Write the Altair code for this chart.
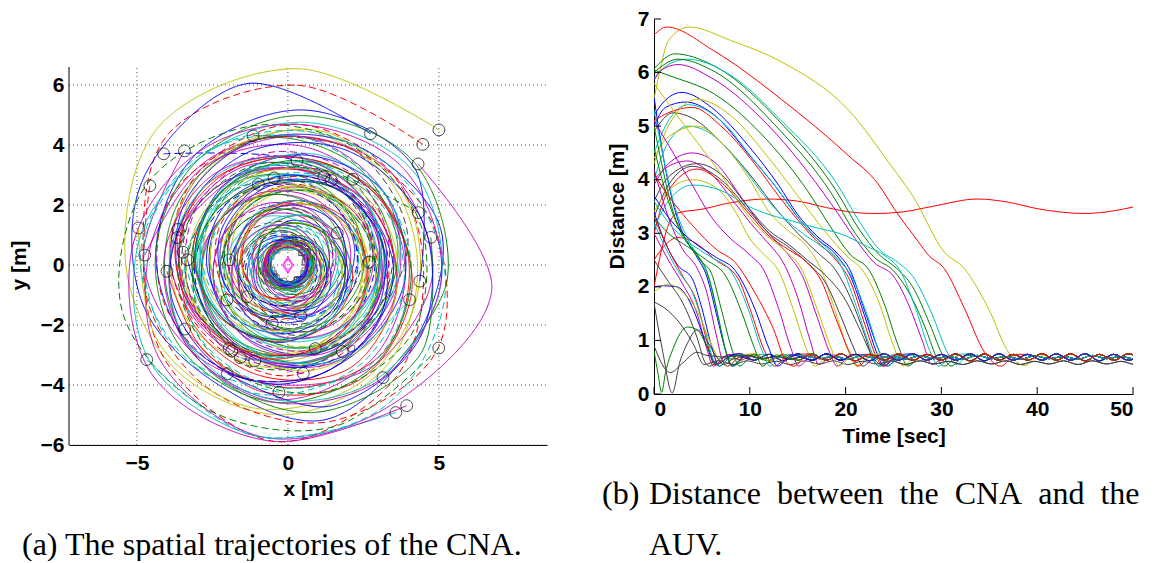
import math
import altair as alt
import pandas as pd

MATLAB = {"b": "#0000FF", "g": "#008000", "r": "#FF0000", "c": "#00BFBF",
          "m": "#BF00BF", "y": "#BFBF00", "k": "#404040"}

# ---------------- Panel (a): spatial trajectories (polar readings) ----------------
# start angle (deg), turning sense, radii read every 45 degrees along the path
TRAJ_START_DEG = [42, 42, 58, 38, 105, 138, 132, 150, 85, 99, 110, 68, 63, 53, 22, 166, 162, 166, 11, 33,
                  176, 173, 177, 183, 175, 2, 353, 344, 210, 218, 284, 255, 212, 235, 237, 243, 251, 288, 302, 331,
                  214, 241, 278, 266, 310, 306, 310]
TRAJ_TURN = [1, 1, 1, -1, -1, -1, 1, 1, -1, 1, 1, 1, -1, -1, 1, 1, -1, 1, -1, 1,
             -1, 1, 1, 1, -1, 1, 1, -1, 1, -1, 1, -1, 1, -1, 1, 1, -1, 1, 1, -1,
             1, 1, -1, -1, 1, -1, -1]
TRAJ_COLOR = list("yrbmkbmrgyycbkgymrgkmcbrbybcbmckrgycmycgcbmcgcm")
TRAJ_STYLE = ["s", "d", "s", "s", "d", "d", "s", "d", "s", "s", "d", "s", "s", "d", "d", "s", "s", "s", "s", "s",
              "s", "d", "s", "s", "s", "d", "s", "s", "d", "s", "s", "d", "s", "s", "s", "s", "s", "s", "s", "d",
              "d", "s", "d", "d", "s", "s", "s"]
TRAJ_R = [
    [6.73, 6.55, 6.3, 5.4, 5.1, 5.0, 4.7, 4.3, 4.4, 4.5, 4.1, 3.6, 3.3, 3.2, 3.0, 2.7, 2.6, 2.5, 2.2, 1.9, 1.7, 1.6, 1.4, 1.2, 1.05, 0.95, 0.85, 0.75, 0.66, 0.62, 0.62, 0.62, 0.62],
    [6.01, 6.0, 5.9, 4.8, 5.2, 5.9, 5.2, 4.5, 4.6, 4.7, 4.3, 3.9, 3.6, 3.7, 3.4, 3.0, 2.8, 2.7, 2.4, 2.0, 1.8, 1.6, 1.3, 1.1, 0.9, 0.8, 0.74, 0.72, 0.72, 0.72],
    [5.16, 6.2, 5.6, 5.0, 4.6, 5.3, 4.9, 5.2, 4.6, 4.3, 4.0, 3.6, 3.2, 3.4, 3.2, 3.3, 3.0, 2.7, 2.4, 2.2, 2.0, 1.9, 1.6, 1.3, 1.1, 0.9, 0.8, 0.72, 0.68, 0.68, 0.68, 0.68],
    [5.47, 6.8, 5.8, 5.8, 5.3, 4.6, 4.4, 4.3, 4.0, 3.7, 3.4, 3.3, 3.1, 2.9, 2.6, 2.3, 2.1, 1.9, 1.6, 1.4, 1.2, 1.0, 0.85, 0.75, 0.7, 0.66, 0.66, 0.66],
    [4.46, 4.4, 4.1, 3.4, 3.0, 3.2, 3.5, 3.6, 3.4, 3.1, 2.8, 2.5, 2.4, 2.2, 2.0, 1.8, 1.5, 1.3, 1.1, 0.95, 0.8, 0.72, 0.62, 0.62, 0.62],
    [5.54, 3.6, 3.2, 2.9, 2.8, 3.0, 3.2, 3.1, 2.9, 2.7, 2.5, 2.3, 2.0, 1.8, 1.6, 1.4, 1.2, 1.0, 0.85, 0.7, 0.58, 0.58, 0.58],
    [5.12, 4.8, 4.3, 4.0, 4.4, 4.8, 4.6, 4.3, 4.2, 3.9, 3.5, 3.3, 3.3, 3.1, 2.8, 2.6, 2.3, 2.0, 1.8, 1.5, 1.3, 1.1, 0.9, 0.78, 0.74, 0.74, 0.74, 0.74],
    [5.28, 4.8, 4.9, 5.4, 5.7, 5.0, 4.4, 4.3, 4.5, 4.3, 4.1, 3.8, 3.5, 3.3, 3.1, 2.9, 2.6, 2.3, 2.0, 1.7, 1.4, 1.2, 1.0, 0.88, 0.8, 0.8, 0.8, 0.8],
    [3.48, 3.6, 3.5, 3.2, 3.0, 3.1, 3.2, 3.3, 3.0, 2.7, 2.5, 2.3, 2.1, 1.9, 1.6, 1.4, 1.2, 1.0, 0.85, 0.75, 0.68, 0.68, 0.68, 0.68],
    [2.94, 3.0, 2.8, 2.6, 2.9, 3.1, 2.9, 2.7, 2.5, 2.3, 2.1, 1.9, 1.7, 1.5, 1.3, 1.1, 0.95, 0.8, 0.68, 0.6, 0.6, 0.6, 0.6],
    [2.86, 2.7, 2.5, 2.6, 2.8, 2.6, 2.4, 2.2, 2.0, 1.8, 1.6, 1.4, 1.2, 1.0, 0.85, 0.75, 0.64, 0.64, 0.64, 0.64],
    [3.17, 3.1, 3.0, 2.8, 2.7, 2.9, 3.0, 2.8, 2.6, 2.4, 2.2, 2.0, 1.8, 1.6, 1.4, 1.2, 1.0, 0.85, 0.75, 0.72, 0.72, 0.72, 0.72],
    [3.17, 3.2, 3.3, 3.1, 2.8, 2.6, 2.7, 2.8, 2.6, 2.3, 2.0, 1.8, 1.6, 1.4, 1.2, 1.0, 0.85, 0.7, 0.56, 0.56, 0.56, 0.56],
    [3.58, 3.5, 3.3, 3.0, 3.2, 3.4, 3.2, 2.9, 2.7, 2.5, 2.2, 2.0, 1.7, 1.5, 1.3, 1.1, 0.9, 0.78, 0.76, 0.76, 0.76, 0.76],
    [4.66, 3.4, 3.2, 3.0, 3.3, 3.6, 3.4, 3.1, 2.8, 2.6, 2.4, 2.2, 2.0, 1.8, 1.5, 1.3, 1.1, 0.9, 0.8, 0.78, 0.78, 0.78, 0.78],
    [5.10, 5.0, 4.9, 4.6, 4.4, 4.5, 4.6, 4.3, 4.0, 3.8, 3.5, 3.3, 3.1, 2.9, 2.7, 2.5, 2.2, 1.9, 1.6, 1.4, 1.2, 1.0, 0.85, 0.7, 0.6, 0.6, 0.6, 0.6],
    [3.83, 3.4, 3.2, 3.4, 3.7, 3.6, 3.3, 3.0, 2.8, 2.6, 2.4, 2.2, 2.0, 1.8, 1.5, 1.3, 1.1, 0.9, 0.78, 0.66, 0.66, 0.66, 0.66],
    [3.78, 3.7, 3.8, 4.0, 3.7, 3.4, 3.2, 3.3, 3.2, 2.9, 2.6, 2.4, 2.2, 1.9, 1.7, 1.4, 1.2, 1.0, 0.85, 0.75, 0.72, 0.72, 0.72],
    [4.82, 5.3, 5.0, 4.4, 4.1, 4.2, 4.3, 4.0, 3.7, 3.4, 3.3, 3.1, 2.9, 2.7, 2.4, 2.1, 1.9, 1.6, 1.4, 1.2, 1.0, 0.88, 0.8, 0.8, 0.8, 0.8, 0.8],
    [1.95, 1.9, 1.8, 1.7, 1.6, 1.4, 1.25, 1.1, 0.95, 0.82, 0.68, 0.58, 0.58, 0.58, 0.58],
    [4.75, 4.3, 4.0, 3.8, 3.9, 4.2, 4.5, 4.3, 3.9, 3.5, 3.2, 3.0, 2.8, 2.5, 2.2, 1.9, 1.6, 1.3, 1.1, 0.9, 0.78, 0.68, 0.68, 0.68, 0.68],
    [3.50, 3.3, 3.1, 3.0, 3.2, 3.3, 3.1, 2.8, 2.6, 2.4, 2.2, 2.0, 1.8, 1.5, 1.3, 1.1, 0.9, 0.78, 0.72, 0.72, 0.72, 0.72],
    [3.33, 3.2, 3.4, 3.6, 3.5, 3.2, 3.0, 2.9, 2.7, 2.5, 2.3, 2.1, 1.9, 1.6, 1.4, 1.2, 1.0, 0.85, 0.7, 0.62, 0.62, 0.62],
    [4.01, 4.0, 4.1, 4.3, 4.0, 3.7, 3.6, 3.8, 3.6, 3.3, 3.0, 2.8, 2.6, 2.3, 2.0, 1.7, 1.5, 1.3, 1.1, 0.9, 0.78, 0.74, 0.74, 0.74, 0.74],
    [1.95, 1.9, 2.0, 2.1, 1.9, 1.7, 1.5, 1.3, 1.1, 0.95, 0.82, 0.72, 0.66, 0.66, 0.66, 0.66],
    [2.69, 2.7, 2.6, 2.4, 2.3, 2.4, 2.2, 2.0, 1.8, 1.6, 1.4, 1.2, 1.0, 0.88, 0.8, 0.8, 0.8, 0.8, 0.8],
    [4.40, 5.3, 5.2, 4.8, 4.4, 4.2, 4.0, 3.7, 3.9, 4.0, 3.7, 3.4, 3.1, 2.8, 2.6, 2.3, 2.0, 1.7, 1.5, 1.2, 1.0, 0.85, 0.7, 0.6, 0.6, 0.6, 0.6],
    [4.19, 3.6, 3.1, 2.9, 3.0, 3.3, 3.5, 3.3, 3.0, 2.7, 2.5, 2.3, 2.0, 1.8, 1.5, 1.3, 1.1, 0.9, 0.8, 0.76, 0.76, 0.76, 0.76],
    [2.33, 2.2, 2.1, 2.3, 2.4, 2.2, 2.0, 1.8, 1.6, 1.4, 1.2, 1.0, 0.85, 0.7, 0.56, 0.56, 0.56, 0.56],
    [1.72, 1.8, 1.9, 1.7, 1.5, 1.35, 1.2, 1.05, 0.92, 0.8, 0.7, 0.62, 0.62, 0.62, 0.62],
    [1.75, 1.6, 1.7, 1.8, 1.6, 1.4, 1.25, 1.1, 0.95, 0.85, 0.8, 0.78, 0.78, 0.78, 0.78],
    [2.01, 2.1, 2.2, 2.0, 1.8, 1.6, 1.45, 1.3, 1.15, 1.0, 0.85, 0.7, 0.6, 0.6, 0.6, 0.6],
    [4.03, 4.3, 4.5, 4.2, 3.8, 3.6, 3.7, 3.8, 3.5, 3.2, 2.9, 2.7, 2.5, 2.2, 1.9, 1.6, 1.4, 1.2, 1.0, 0.88, 0.8, 0.8, 0.8, 0.8, 0.8],
    [3.40, 3.2, 3.0, 2.8, 3.0, 3.2, 3.1, 2.8, 2.5, 2.3, 2.1, 1.9, 1.7, 1.4, 1.2, 1.0, 0.85, 0.7, 0.58, 0.58, 0.58, 0.58],
    [3.42, 3.6, 3.8, 3.6, 3.4, 3.2, 3.3, 3.4, 3.2, 2.9, 2.6, 2.4, 2.2, 2.0, 1.7, 1.5, 1.3, 1.1, 0.9, 0.75, 0.64, 0.64, 0.64, 0.64],
    [3.47, 3.3, 3.1, 3.0, 3.2, 3.4, 3.2, 2.9, 2.6, 2.4, 2.2, 2.0, 1.8, 1.5, 1.3, 1.1, 0.9, 0.8, 0.76, 0.76, 0.76, 0.76],
    [3.38, 3.5, 3.7, 3.6, 3.3, 3.1, 3.2, 3.2, 2.9, 2.6, 2.4, 2.2, 2.0, 1.7, 1.5, 1.3, 1.1, 0.9, 0.72, 0.6, 0.6, 0.6, 0.6],
    [2.93, 2.7, 2.5, 2.6, 2.8, 2.7, 2.5, 2.3, 2.1, 1.9, 1.7, 1.5, 1.3, 1.1, 0.92, 0.82, 0.8, 0.8, 0.8, 0.8],
    [3.40, 3.6, 4.0, 3.8, 3.4, 3.1, 3.0, 3.1, 3.0, 2.7, 2.4, 2.2, 2.0, 1.8, 1.5, 1.3, 1.1, 0.9, 0.72, 0.56, 0.56, 0.56, 0.56],
    [5.71, 5.6, 5.5, 5.7, 5.4, 4.8, 4.5, 4.6, 4.7, 4.4, 4.0, 3.7, 3.6, 3.5, 3.2, 2.9, 2.6, 2.3, 2.0, 1.7, 1.4, 1.2, 1.0, 0.85, 0.72, 0.64, 0.64, 0.64, 0.64],
    [5.64, 5.8, 5.7, 5.3, 4.8, 4.5, 4.6, 4.8, 4.7, 4.4, 4.1, 3.9, 3.7, 3.5, 3.2, 2.9, 2.6, 2.3, 2.0, 1.7, 1.4, 1.2, 1.0, 0.85, 0.8, 0.78, 0.78, 0.78, 0.78],
    [4.14, 4.9, 5.0, 4.7, 4.3, 4.0, 3.8, 4.0, 4.1, 3.8, 3.5, 3.2, 3.0, 2.8, 2.5, 2.2, 1.9, 1.6, 1.4, 1.2, 1.0, 0.85, 0.7, 0.6, 0.6, 0.6, 0.6],
    [3.65, 3.5, 3.4, 3.6, 3.8, 3.7, 3.4, 3.1, 2.9, 2.7, 2.5, 2.3, 2.0, 1.8, 1.5, 1.3, 1.1, 0.9, 0.8, 0.76, 0.76, 0.76, 0.76],
    [4.25, 4.6, 4.9, 4.7, 4.3, 4.0, 4.1, 4.3, 4.1, 3.8, 3.4, 3.1, 2.9, 2.6, 2.3, 2.0, 1.7, 1.5, 1.2, 1.0, 0.85, 0.7, 0.58, 0.58, 0.58, 0.58],
    [4.90, 5.3, 5.4, 5.0, 4.6, 4.4, 4.5, 4.6, 4.4, 4.1, 3.8, 3.5, 3.3, 3.1, 2.8, 2.5, 2.2, 1.9, 1.6, 1.4, 1.2, 1.0, 0.88, 0.8, 0.8, 0.8, 0.8, 0.8],
    [6.08, 5.8, 5.6, 5.0, 4.6, 4.8, 5.2, 5.1, 4.8, 4.5, 4.2, 3.9, 3.8, 3.6, 3.3, 3.0, 2.7, 2.4, 2.1, 1.8, 1.5, 1.3, 1.1, 0.9, 0.72, 0.62, 0.62, 0.62, 0.62],
    [6.12, 5.9, 5.8, 5.2, 4.8, 4.7, 5.0, 5.1, 4.9, 4.6, 4.3, 4.1, 3.9, 3.6, 3.3, 3.0, 2.7, 2.4, 2.1, 1.8, 1.5, 1.3, 1.1, 0.9, 0.78, 0.74, 0.74, 0.74, 0.74],
]
EXTRA_SQUARE_X = [2.11]
EXTRA_SQUARE_Y = [-2.78]
AUV_X = [0.0]
AUV_Y = [0.0]
X_TICKS_A = [-5, 0, 5]
Y_TICKS_A = [-6, -4, -2, 0, 2, 4, 6]

# ---------------- Panel (b): distance curves (t [s], d [m]) ----------------
DIST_KNOTS = [
    [(0, 6.7), (1.3, 6.85), (6.3, 6.4), (13.3, 5.5), (20.3, 4.45), (23.4, 3.92), (25.1, 3.45), (27.6, 2.84), (28.6, 2.6), (30.3, 2.34), (32.4, 1.6), (34.5, 0.78), (36.2, 0.52), (37.8, 0.74)],
    [(0, 5.5), (0.7, 6.1), (1.5, 6.6), (3.7, 6.85), (8, 6.6), (13.3, 6.2), (20.3, 5.3), (25, 4.2), (27, 3.7), (30.3, 2.65), (32.4, 2.34), (34.9, 1.6), (37, 0.78), (38.7, 0.53), (40.3, 0.74)],
    [(0, 2.0), (0.8, 2.7), (1.5, 3.15), (2.5, 3.38), (5, 3.45), (8, 3.57), (11.8, 3.64), (15, 3.6), (18, 3.48), (20, 3.41), (23, 3.37), (26, 3.4), (29, 3.5), (33.8, 3.64), (37, 3.58), (40, 3.46), (45, 3.37), (48, 3.42), (50, 3.49)],
    [(0, 6.07), (2.2, 6.35), (6, 6.15), (13.3, 5.05), (19, 3.8), (21.5, 3.05), (23.5, 2.6), (25.3, 2.35), (27, 2.0), (28.8, 1.3), (30.2, 0.7), (31, 0.52), (32.5, 0.72)],
    [(0, 5.9), (1.5, 6.15), (3.5, 6.25), (8, 5.95), (13.3, 5.1), (19, 3.95), (21.5, 3.2), (23.5, 2.7), (25.5, 2.45), (27, 2.2), (29, 1.5), (30.7, 0.75), (31.5, 0.55), (33, 0.74)],
    [(0, 6.0), (2.5, 6.25), (6, 6.05), (13, 4.95), (18.5, 3.75), (21, 3.0), (23, 2.55), (25, 2.3), (26.6, 1.9), (28.4, 1.2), (29.6, 0.65), (30.3, 0.52), (31.8, 0.72)],
    [(0, 5.85), (0.8, 6.05), (2.5, 6.15), (6, 5.9), (12, 5.0), (18.5, 3.55), (21, 2.9), (23, 2.45), (25, 2.2), (26.5, 1.7), (28, 1.0), (29, 0.55), (30.5, 0.72)],
    [(0, 6.05), (1.5, 5.95), (6.3, 5.6), (12, 4.7), (16, 3.8), (18.5, 3.1), (20.5, 2.6), (22.5, 2.3), (24, 1.7), (25.5, 0.9), (26.5, 0.52), (28, 0.72)],
    [(0, 5.2), (1, 5.45), (2.9, 5.63), (6, 5.35), (10, 4.6), (13, 3.9), (15, 3.35), (17, 2.95), (19, 2.65), (20.5, 2.3), (22, 1.55), (23.5, 0.8), (24.3, 0.52), (25.8, 0.73)],
    [(0, 5.0), (1.2, 5.35), (3.3, 5.45), (6, 5.25), (10, 4.45), (13, 3.8), (15, 3.3), (17, 2.9), (19, 2.6), (20.5, 2.2), (22, 1.45), (23.3, 0.75), (24, 0.52), (25.5, 0.73)],
    [(0, 4.5), (1.5, 5.1), (3.6, 5.4), (7, 5.1), (10.5, 4.35), (13, 3.8), (15, 3.3), (17, 2.9), (19, 2.55), (20.6, 2.2), (22.3, 1.45), (23.6, 0.75), (24.4, 0.52), (25.9, 0.73)],
    [(0, 5.1), (1.5, 5.25), (4, 5.35), (7, 5.0), (10.5, 4.3), (13, 3.7), (15, 3.25), (17, 2.85), (19, 2.5), (20.5, 2.1), (22, 1.3), (23.2, 0.7), (23.9, 0.52), (25.4, 0.73)],
    [(0, 4.9), (2, 5.25), (4, 5.15), (7, 4.7), (10, 4.1), (13, 3.4), (15, 3.0), (17, 2.65), (19, 2.3), (20.5, 1.8), (22, 1.1), (23, 0.6), (23.6, 0.52), (25.1, 0.72)],
    [(0, 4.3), (1.5, 5.0), (4.5, 5.5), (8, 5.2), (12, 4.4), (15, 3.7), (18, 3.0), (20, 2.6), (22, 2.25), (23.5, 1.7), (25, 0.9), (26, 0.52), (27.5, 0.73)],
    [(0, 4.0), (1.5, 4.7), (3.6, 5.0), (6, 4.85), (9, 4.3), (11.5, 3.7), (13.5, 3.3), (15.5, 3.0), (17.5, 2.75), (19.5, 2.4), (21, 1.7), (22.5, 0.9), (23.4, 0.52), (24.9, 0.73)],
    [(0, 4.4), (1.5, 4.8), (4.5, 5.0), (7, 4.7), (10, 4.0), (12, 3.4), (14, 3.05), (16, 2.75), (17.5, 2.3), (19, 1.5), (20.4, 0.75), (21.1, 0.52), (22.6, 0.73)],
    [(0, 3.9), (1.5, 4.3), (4, 4.5), (6.5, 4.3), (9, 3.7), (11, 3.2), (12.5, 2.9), (14, 2.6), (15.5, 2.2), (17, 1.45), (18.4, 0.75), (19.1, 0.52), (20.6, 0.73)],
    [(0, 4.0), (1.5, 4.25), (3.5, 4.35), (6, 4.1), (8.5, 3.55), (10.5, 3.1), (12, 2.8), (13.5, 2.45), (15, 1.8), (16.3, 1.0), (17.2, 0.55), (18.7, 0.73)],
    [(0, 3.6), (1.5, 4.05), (4.5, 4.3), (7, 4.1), (10, 3.45), (12, 3.05), (14, 2.8), (16, 2.5), (18, 2.2), (20, 1.75), (21.5, 1.2), (23, 0.65), (23.7, 0.55)],
    [(0, 3.3), (1.5, 3.9), (4, 4.25), (7, 4.0), (10, 3.4), (12, 3.0), (14, 2.75), (16, 2.45), (18, 2.05), (19.5, 1.45), (21, 0.8), (21.8, 0.52), (23.3, 0.72)],
    [(0, 3.0), (1.5, 3.8), (4.5, 4.2), (7, 3.95), (10, 3.35), (12, 2.95), (14, 2.7), (16, 2.45), (17.5, 2.1), (19, 1.4), (20.5, 0.75), (21.3, 0.52), (22.8, 0.73)],
    [(0, 3.4), (1.5, 3.8), (4, 4.0), (6.5, 3.85), (8.5, 3.4), (10, 2.9), (11.5, 2.6), (13, 2.3), (14.5, 1.6), (16, 0.8), (16.8, 0.52), (18.3, 0.73)],
    [(0, 3.1), (1.5, 3.6), (4, 3.9), (7, 3.8), (9.9, 3.5), (12, 3.35), (14, 3.25), (17, 3.1), (19.3, 3.0), (22.3, 2.75), (24.2, 2.57), (25.7, 2.3), (27.3, 1.6), (28.8, 0.8), (29.7, 0.52), (31.2, 0.73)],
    [(0, 2.5), (1, 2.75), (2.5, 2.92), (4.5, 2.8), (6.3, 2.52), (8.8, 2.15), (10, 1.6), (11.6, 0.78), (12.6, 0.52), (14.1, 0.73)],
    [(0, 5.55), (0.8, 4.6), (1.8, 3.7), (3, 3.0), (4.5, 2.55), (5.5, 2.2), (6.5, 1.5), (7.5, 0.8), (8.2, 0.52), (9.7, 0.73)],
    [(0, 5.3), (1, 4.4), (2, 3.6), (3.5, 2.9), (5, 2.45), (6, 2.0), (7, 1.2), (7.8, 0.6), (8.3, 0.52), (9.8, 0.73)],
    [(0, 4.6), (1.5, 3.6), (3, 2.95), (4.5, 2.6), (5.5, 2.3), (6.5, 1.6), (7.5, 0.8), (8.1, 0.52), (9.6, 0.73)],
    [(0, 4.2), (1.5, 3.3), (3, 2.7), (4.5, 2.35), (5.5, 1.9), (6.5, 1.1), (7.2, 0.6), (7.7, 0.52), (9.2, 0.73)],
    [(0, 3.4), (1, 2.9), (2.5, 2.4), (4, 2.15), (5, 1.6), (6, 0.9), (6.8, 0.52), (8.3, 0.73)],
    [(0, 3.3), (1.5, 2.7), (3, 2.2), (4.5, 1.7), (5.5, 1.0), (6.3, 0.55), (7.8, 0.73)],
    [(0, 3.0), (1.5, 2.5), (3, 2.05), (4.5, 1.5), (5.5, 0.85), (6.2, 0.52), (7.7, 0.73)],
    [(0, 3.2), (1, 2.8), (2.5, 2.3), (4, 1.9), (5.3, 1.2), (6.3, 0.6), (6.8, 0.52), (8.3, 0.73)],
    [(0, 5.0), (0.8, 4.3), (2, 3.4), (3.3, 2.9), (4.8, 2.5), (6, 2.25), (7, 1.6), (8.2, 0.8), (8.9, 0.52), (10.4, 0.73)],
    [(0, 2.5), (1.5, 2.1), (3, 1.7), (4.5, 1.05), (5.3, 0.6), (5.8, 0.52), (7.3, 0.7)],
    [(0, 2.0), (1, 2.02), (2.4, 2.0), (3.5, 1.8), (4.5, 1.4), (5.5, 0.9), (6.5, 0.55), (8, 0.72)],
    [(0, 1.9), (1.5, 2.05), (3, 1.9), (4.5, 1.55), (5.8, 1.0), (7, 0.6), (7.6, 0.52), (9.1, 0.72)],
    [(0, 1.72), (1.5, 1.55), (3, 1.25), (4.2, 0.9), (5.2, 0.55)],
    [(0, 0.8), (0.4, 0.4), (0.8, 0.03), (1.2, 0.4), (2, 0.85), (3.5, 1.25), (4.5, 1.2), (5.5, 0.9), (6.5, 0.55), (8, 0.7)],
    [(0, 1.7), (0.9, 0.8), (1.9, 0.02), (2.7, 0.6), (3.5, 0.95), (4.5, 1.2), (5.5, 1.0), (6.5, 0.7), (7.3, 0.55), (8.8, 0.72)],
    [(0, 0.9), (1.7, 0.4), (3, 0.58), (4.5, 0.78), (5.5, 0.72)],
    [(0, 5.1), (2, 4.5), (4, 3.9), (6, 3.3), (8, 2.9), (10, 2.6), (11.5, 2.3), (13, 1.6), (14.3, 0.85), (15.1, 0.52), (16.6, 0.73)],
    [(0, 5.8), (2, 5.3), (4.5, 4.7), (7, 4.1), (9.5, 3.4), (11.5, 3.0), (13.5, 2.7), (15.5, 2.3), (17, 1.6), (18.5, 0.85), (19.3, 0.52), (20.8, 0.73)],
    [(0, 3.3), (1.5, 3.0), (3.5, 2.75), (5.5, 2.5), (7.5, 2.2), (9, 1.6), (10.5, 0.85), (11.3, 0.52), (12.8, 0.73)],
    [(0, 3.6), (1.5, 3.2), (3.5, 2.85), (6, 2.55), (8, 2.3), (9.8, 1.6), (11.3, 0.8), (12.1, 0.52), (13.6, 0.73)],
    [(0, 3.7), (1.5, 3.3), (4, 2.85), (6.5, 2.55), (8.5, 2.3), (10.5, 1.6), (12, 0.85), (12.9, 0.52), (14.4, 0.73)],
    [(0, 4.1), (1.5, 3.7), (4, 3.15), (6.5, 2.7), (8.5, 2.45), (10.5, 1.9), (12.5, 1.2), (13.8, 0.6), (14.6, 0.52), (16.1, 0.73)],
]
DIST_COLOR = list("ryrgcgmgbbcrkycymmkkrycr" + "bcgmbrmcgkbykgkkmy" + "gcbr")
DIST_BAND = [0, 1, None, 2, 0, 1, 0, 2, 1, 0, 2, 1, 2, 0, 1, 0, 1, 2, 3, 0, 1, 2, 0, 1,
             2, 0, 1, 2, 0, 1, 0, 2, 1, 2, 0, 1, 3, 2, 0, 2, 1, 0,
             1, 2, 0, 1]
BAND_T = [0, 1.5, 3, 4.5, 6, 7.5, 9, 10.5, 12, 13.5, 15, 16.5, 18, 19.5, 21, 22.5, 24, 25.5, 27, 28.5,
          30, 31.5, 33, 34.5, 36, 37.5, 39, 40.5, 42, 43.5, 45, 46.5, 48, 49.5, 51]
BAND_T_SHIFT = [0.75, 2.25, 3.75, 5.25, 6.75, 8.25, 9.75, 11.25, 12.75, 14.25, 15.75, 17.25, 18.75, 20.25, 21.75,
                23.25, 24.75, 26.25, 27.75, 29.25, 30.75, 32.25, 33.75, 35.25, 36.75, 38.25, 39.75, 41.25, 42.75,
                44.25, 45.75, 47.25, 48.75, 50.25, 51.75]
BAND_A = [0.75, 0.63, 0.74, 0.62, 0.75, 0.63, 0.75, 0.63, 0.74, 0.62, 0.75, 0.63, 0.75, 0.63, 0.74, 0.62, 0.75, 0.63,
          0.75, 0.63, 0.74, 0.63, 0.75, 0.62, 0.75, 0.63, 0.74, 0.63, 0.75, 0.63, 0.75, 0.62, 0.74, 0.63, 0.75]
BAND_B = [0.63, 0.75, 0.62, 0.74, 0.63, 0.75, 0.63, 0.75, 0.62, 0.74, 0.63, 0.75, 0.63, 0.75, 0.62, 0.74, 0.63, 0.75,
          0.63, 0.74, 0.63, 0.75, 0.62, 0.75, 0.63, 0.74, 0.63, 0.75, 0.63, 0.75, 0.62, 0.74, 0.63, 0.75, 0.63]
BAND_C = [0.70, 0.65, 0.71, 0.66, 0.70, 0.65, 0.72, 0.66, 0.70, 0.65, 0.71, 0.66, 0.70, 0.65, 0.72, 0.66, 0.70, 0.65,
          0.71, 0.66, 0.70, 0.65, 0.72, 0.66, 0.70, 0.65, 0.71, 0.66, 0.70, 0.65, 0.72, 0.66, 0.70, 0.65, 0.71]
BAND_D = [0.62, 0.55, 0.61, 0.56, 0.62, 0.55, 0.62, 0.56, 0.61, 0.55, 0.62, 0.56, 0.62, 0.55, 0.61, 0.56, 0.62, 0.55,
          0.62, 0.56, 0.61, 0.55, 0.62, 0.56, 0.62, 0.55, 0.61, 0.56, 0.62, 0.55, 0.62, 0.56, 0.61, 0.55, 0.62]
BAND_TIMES = [BAND_T, BAND_T, BAND_T_SHIFT, BAND_T_SHIFT]
BAND_VALUES = [BAND_A, BAND_B, BAND_C, BAND_D]
X_TICKS_B = [0, 10, 20, 30, 40, 50]
Y_TICKS_B = [0, 1, 2, 3, 4, 5, 6, 7]

CAPTION_A = "(a) The spatial trajectories of the CNA."
CAPTION_B_TAG = "(b)"
NB = "\u00a0\u00a0"
CAPTION_B_LINE1 = NB.join(["Distance", "between", "the", "CNA", "and", "the"])
CAPTION_B_LINE2 = "AUV."

# ---------------- build tables ----------------
traj_rows, start_rows, end_rows = [], [], []
for i, radii in enumerate(TRAJ_R):
    for k, r in enumerate(radii):
        a = math.radians(TRAJ_START_DEG[i] + TRAJ_TURN[i] * 45 * k)
        traj_rows.append({"traj": i, "k": k, "x": r * math.cos(a), "y": r * math.sin(a),
                          "hex": MATLAB[TRAJ_COLOR[i]], "style": TRAJ_STYLE[i]})
    start_rows.append(traj_rows[-len(radii)])
    end_rows.append(traj_rows[-1])
traj_df = pd.DataFrame(traj_rows)
start_df = pd.DataFrame(start_rows)
end_df = pd.concat([pd.DataFrame(end_rows)[["x", "y"]],
                    pd.DataFrame({"x": EXTRA_SQUARE_X, "y": EXTRA_SQUARE_Y})], ignore_index=True)
auv_df = pd.DataFrame({"x": AUV_X, "y": AUV_Y})

dist_rows = []
for ci, knots in enumerate(DIST_KNOTS):
    hexc = MATLAB[DIST_COLOR[ci]]
    for t, d in knots:
        dist_rows.append({"curve": ci, "t": t, "d": d, "hex": hexc})
    b = DIST_BAND[ci]
    if b is not None:
        last_t = knots[-1][0]
        for t, d in zip(BAND_TIMES[b], BAND_VALUES[b]):
            if t >= last_t + 1.0:
                dist_rows.append({"curve": ci, "t": t, "d": d, "hex": hexc})
dist_df = pd.DataFrame(dist_rows)

# ---------------- panel (a) ----------------
WA, HA = 478, 426
xs_a = alt.Scale(domain=[-7.25, 8.58], nice=False, zero=False)
ys_a = alt.Scale(domain=[-6, 8.2], nice=False, zero=False)
ax_xa = alt.Axis(values=X_TICKS_A, title="x [m]", grid=False, ticks=False, domain=True,
                 labelPadding=7, titleY=44, titleBaseline="middle")
ax_ya = alt.Axis(values=Y_TICKS_A, title="y [m]", grid=False, ticks=False, domain=False,
                 labelPadding=5, titleX=-50, titleY=246, titleBaseline="middle", titleAlign="center")
GRID = dict(strokeDash=[1, 3], color="#555555", strokeWidth=1)

a_hgrid = alt.Chart(pd.DataFrame({"y": Y_TICKS_A})).mark_rule(**GRID).encode(
    y=alt.Y("y:Q", scale=ys_a, axis=ax_ya), x=alt.value(0), x2=alt.value(WA))
a_vgrid = alt.Chart(pd.DataFrame({"x": X_TICKS_A})).mark_rule(**GRID).encode(
    x=alt.X("x:Q", scale=xs_a, axis=ax_xa), y=alt.datum(-6), y2=alt.datum(6.6))
a_end = alt.Chart(end_df).mark_point(shape="square", size=36, color="#333333", filled=False, strokeWidth=0.9).encode(
    x=alt.X("x:Q", scale=xs_a, axis=ax_xa), y=alt.Y("y:Q", scale=ys_a, axis=ax_ya))
a_lines = alt.Chart(traj_df).mark_line(interpolate="cardinal", strokeWidth=1, clip=True).encode(
    x=alt.X("x:Q", scale=xs_a, axis=ax_xa),
    y=alt.Y("y:Q", scale=ys_a, axis=ax_ya),
    order="k:Q", detail="traj:N",
    color=alt.Color("hex:N", scale=None),
    strokeDash=alt.StrokeDash("style:N", scale=alt.Scale(domain=["s", "d"], range=[[1, 0], [7, 4]]), legend=None))
a_start = alt.Chart(start_df).mark_point(shape="circle", size=140, color="black", filled=False, strokeWidth=1).encode(
    x=alt.X("x:Q", scale=xs_a, axis=ax_xa), y=alt.Y("y:Q", scale=ys_a, axis=ax_ya))
a_auv = alt.Chart(auv_df).mark_point(shape="M0,-1L0.65,0L0,1L-0.65,0Z", size=220, color="#FF00FF",
                                     filled=False, strokeWidth=2).encode(
    x=alt.X("x:Q", scale=xs_a, axis=ax_xa), y=alt.Y("y:Q", scale=ys_a, axis=ax_ya))
a_yline = alt.Chart(pd.DataFrame({"v": [0]})).mark_rule(color="black", strokeWidth=1).encode(
    x=alt.value(0), y=alt.datum(-6), y2=alt.datum(6.6))
a_cap = alt.Chart(pd.DataFrame({"cap": [CAPTION_A]})).mark_text(
    align="left", baseline="middle", font="Liberation Serif", fontSize=32, color="black").encode(
    text="cap:N", x=alt.value(-47), y=alt.value(526))
panel_a = alt.layer(a_hgrid, a_vgrid, a_end, a_lines, a_start, a_auv, a_yline, a_cap).properties(width=WA, height=HA)

# ---------------- panel (b) ----------------
WB, HB = 479, 375
xs_b = alt.Scale(domain=[0, 50], nice=False, zero=False)
ys_b = alt.Scale(domain=[0, 7], nice=False, zero=False)
ax_xb = alt.Axis(values=X_TICKS_B, title="Time [sec]", grid=False, ticks=False, domain=True,
                 labelPadding=4, titleY=42, titleBaseline="middle")
ax_yb = alt.Axis(values=Y_TICKS_B, title="Distance [m]", grid=False, ticks=False, domain=True,
                 labelPadding=5, titleX=-37, titleY=187, titleBaseline="middle", titleAlign="center")
b_lines = alt.Chart(dist_df).mark_line(interpolate="monotone", strokeWidth=1, clip=True).encode(
    x=alt.X("t:Q", scale=xs_b, axis=ax_xb),
    y=alt.Y("d:Q", scale=ys_b, axis=ax_yb),
    detail="curve:N", color=alt.Color("hex:N", scale=None))
b_xticks = alt.Chart(pd.DataFrame({"t": X_TICKS_B})).mark_rule(color="black", strokeWidth=1).encode(
    x=alt.X("t:Q", scale=xs_b, axis=ax_xb), y=alt.value(HB), y2=alt.value(HB - 7))
b_yticks = alt.Chart(pd.DataFrame({"d": Y_TICKS_B})).mark_rule(color="black", strokeWidth=1).encode(
    y=alt.Y("d:Q", scale=ys_b, axis=ax_yb), x=alt.value(0), x2=alt.value(7))
b_caps = alt.Chart(pd.DataFrame({"cap": [CAPTION_B_TAG, CAPTION_B_LINE1, CAPTION_B_LINE2],
                                 "px": [-52, -5, -5], "py": [475, 475, 526]})).mark_text(
    align="left", baseline="middle", font="Liberation Serif", fontSize=32, color="black").encode(
    text="cap:N", x=alt.X("px:Q", scale=None), y=alt.Y("py:Q", scale=None))
panel_b = alt.layer(b_lines, b_xticks, b_yticks, b_caps).properties(width=WB, height=HB)

chart = alt.hconcat(panel_a, panel_b, spacing=54).properties(
    padding={"left": 0, "top": 0, "right": 0, "bottom": 0}, background="white"
).configure_view(stroke=None).configure_axis(
    labelFont="Liberation Sans", labelFontSize=21, labelFontWeight="bold", labelColor="black",
    titleFont="Liberation Sans", titleFontSize=21, titleFontWeight="bold", titleColor="black",
    domainColor="black", domainWidth=1
)

chart.save("out.html", embed_options={"renderer": "svg", "actions": False})
